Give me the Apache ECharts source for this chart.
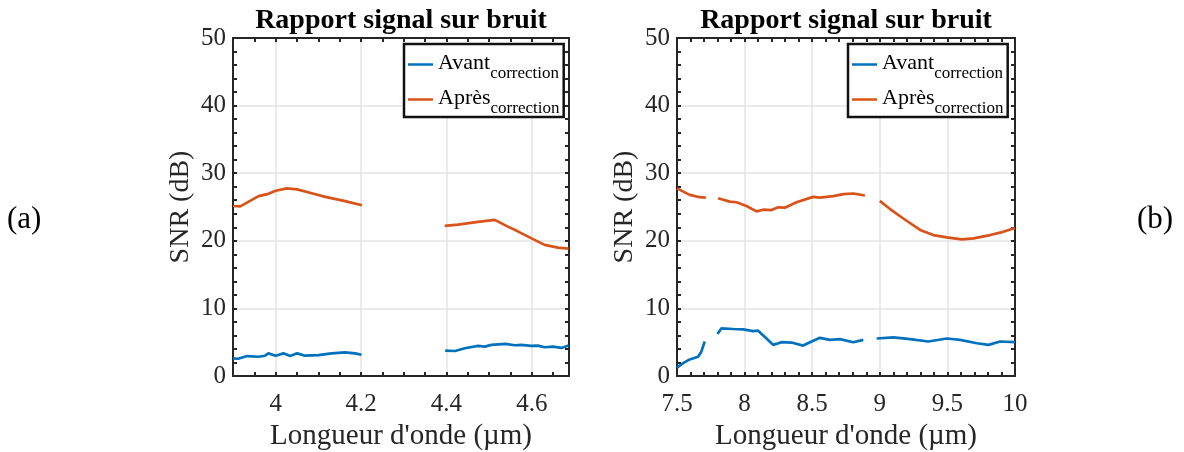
<!DOCTYPE html>
<html>
<head>
<meta charset="utf-8">
<script src="https://cdn.jsdelivr.net/npm/echarts@6/dist/echarts.min.js"></script>
<style>
  html, body { margin: 0; padding: 0; background: #fff; }
  #chart { width: 1184px; height: 452px; }
</style>
</head>
<body>
<div id="chart"></div>
<script>
// ---- data: SNR (dB) versus wavelength (µm), [wavelength, snr] pairs per continuous segment ----

// (a) 3.9 – 4.69 µm band
const xLabelsA = [4, 4.2, 4.4, 4.6];
const avantA1 = [[3.900, 2.6], [3.912, 2.55], [3.933, 2.95], [3.960, 2.85], [3.975, 3.0], [3.983, 3.35],
  [4.000, 3.0], [4.018, 3.35], [4.034, 2.95], [4.050, 3.35], [4.069, 3.0], [4.100, 3.1], [4.131, 3.35],
  [4.162, 3.5], [4.186, 3.35], [4.201, 3.15]];
const avantA2 = [[4.397, 3.75], [4.420, 3.7], [4.443, 4.1], [4.474, 4.45], [4.490, 4.35], [4.505, 4.6],
  [4.538, 4.75], [4.560, 4.55], [4.575, 4.6], [4.598, 4.45], [4.614, 4.5], [4.630, 4.25], [4.649, 4.35],
  [4.669, 4.15], [4.686, 4.5]];
const apresA1 = [[3.900, 25.15], [3.917, 25.1], [3.940, 25.9], [3.960, 26.6], [3.980, 26.9], [4.000, 27.4],
  [4.026, 27.75], [4.050, 27.6], [4.080, 27.1], [4.116, 26.5], [4.160, 25.9], [4.202, 25.25]];
const apresA2 = [[4.396, 22.2], [4.427, 22.4], [4.474, 22.8], [4.513, 23.1], [4.544, 22.1], [4.567, 21.4],
  [4.598, 20.4], [4.630, 19.4], [4.661, 19.0], [4.686, 18.85]];

// (b) 7.5 – 10 µm band
const avantB1 = [[7.500, 1.25], [7.545, 1.9], [7.594, 2.45], [7.656, 2.85], [7.680, 3.6], [7.705, 5.1]];
const avantB2 = [[7.799, 6.2], [7.829, 7.05], [7.915, 6.95], [7.989, 6.9], [8.063, 6.65], [8.100, 6.7],
  [8.162, 5.55], [8.211, 4.6], [8.273, 5.0], [8.347, 4.95], [8.433, 4.5], [8.496, 5.1], [8.557, 5.65],
  [8.631, 5.35], [8.705, 5.45], [8.804, 5.0], [8.878, 5.35]];
const avantB3 = [[8.977, 5.55], [9.100, 5.7], [9.224, 5.45], [9.359, 5.1], [9.496, 5.55], [9.594, 5.35],
  [9.718, 4.85], [9.804, 4.6], [9.890, 5.1], [10.000, 5.0]];
const apresB1 = [[7.500, 27.75], [7.594, 26.8], [7.668, 26.45], [7.713, 26.4]];
const apresB2 = [[7.804, 26.3], [7.890, 25.8], [7.940, 25.7], [8.014, 25.15], [8.088, 24.35], [8.137, 24.6],
  [8.199, 24.55], [8.248, 24.95], [8.298, 24.9], [8.384, 25.7], [8.507, 26.5], [8.557, 26.4], [8.656, 26.6],
  [8.730, 26.9], [8.804, 27.0], [8.890, 26.7]];
const apresB3 = [[9.000, 25.9], [9.076, 24.7], [9.174, 23.3], [9.298, 21.6], [9.396, 20.85], [9.495, 20.5],
  [9.607, 20.2], [9.693, 20.35], [9.816, 20.85], [9.890, 21.2], [10.000, 21.9]];

const seriesNames = ['Avant', 'Après'];
const legendSub = 'correction';
const plotTitle = 'Rapport signal sur bruit';
const xName = "Longueur d'onde (µm)";
const yName = 'SNR (dB)';

// ---- styling ----
const SERIF = '"Liberation Serif", "Times New Roman", serif';
const BLUE = '#0072BD';
const ORANGE = '#D95319';
const INK = '#262626';
const GRID = '#e3e3e3';
const NONE = 'rgba(0,0,0,0)';

// fixed plot boxes: labels may reach the canvas edge without shrinking the grid
const grids = [
  { left: 233, top: 38, width: 336, height: 338, outerBoundsMode: 'none', containLabel: false },
  { left: 677, top: 38, width: 338, height: 338, outerBoundsMode: 'none', containLabel: false }
];

const axisLineStyle = { show: true, onZero: false, lineStyle: { color: INK, width: 2 } };
const tickStyle = { show: true, inside: true, length: 4, lineStyle: { color: INK, width: 2 } };
const labelStyle = { fontFamily: SERIF, fontSize: 25, color: INK };
const nameStyle = { fontFamily: SERIF, fontSize: 29, color: INK };

function yAxes(gi) {
  const base = {
    gridIndex: gi, type: 'value', min: 0, max: 50, interval: 10,
    axisLine: axisLineStyle, axisTick: tickStyle,
    minorTick: { show: true, splitNumber: 5, length: 4, lineStyle: { color: INK, width: 2 } }
  };
  return [
    Object.assign({}, base, {
      position: 'left',
      axisLabel: Object.assign({ margin: 7 }, labelStyle),
      splitLine: { show: true, lineStyle: { color: GRID, width: 1.5 } },
      name: yName, nameLocation: 'middle', nameGap: 38,
      nameTextStyle: { fontFamily: SERIF, fontSize: 28, color: INK }
    }),
    Object.assign({}, base, {
      position: 'right', axisLabel: { show: false }, splitLine: { show: false }
    })
  ];
}

function isLabelA(v) { return xLabelsA.find(t => Math.abs(t - v) < 1e-6); }

// axis (a): ticks every 0.05 µm, labels and grid lines every 0.2 µm
function xAxesA() {
  const base = {
    gridIndex: 0, type: 'value', min: 3.9, max: 4.687, interval: 0.05,
    axisLine: axisLineStyle, axisTick: tickStyle
  };
  return [
    Object.assign({}, base, {
      position: 'bottom',
      axisLabel: Object.assign({
        margin: 16, showMinLabel: false, showMaxLabel: false,
        formatter: v => { const t = isLabelA(v); return t === undefined ? '' : String(t); }
      }, labelStyle),
      splitLine: { show: true, lineStyle: { color: [NONE, NONE, GRID, NONE], width: 1.5 } },
      name: xName, nameLocation: 'middle', nameGap: 45, nameTextStyle: nameStyle
    }),
    Object.assign({}, base, { position: 'top', axisLabel: { show: false }, splitLine: { show: false } })
  ];
}

function xAxesB() {
  const base = {
    gridIndex: 1, type: 'value', min: 7.5, max: 10, interval: 0.5,
    axisLine: axisLineStyle, axisTick: tickStyle,
    minorTick: { show: true, splitNumber: 5, length: 4, lineStyle: { color: INK, width: 2 } }
  };
  return [
    Object.assign({}, base, {
      position: 'bottom',
      axisLabel: Object.assign({ margin: 16, formatter: v => String(v) }, labelStyle),
      splitLine: { show: true, lineStyle: { color: GRID, width: 1.5 } },
      name: xName, nameLocation: 'middle', nameGap: 45, nameTextStyle: nameStyle
    }),
    Object.assign({}, base, { position: 'top', axisLabel: { show: false }, splitLine: { show: false } })
  ];
}

function line(name, color, data, xi, yi) {
  return {
    name: name, type: 'line', xAxisIndex: xi, yAxisIndex: yi, data: data,
    showSymbol: false, symbol: 'none', smooth: false, animation: false,
    lineStyle: { color: color, width: 2.7 }, itemStyle: { color: color }, z: 3
  };
}

// legend entries: name with a "correction" subscript
function legendAt(left) {
  return {
    left: left, top: 44, orient: 'vertical', icon: 'rect',
    itemWidth: 25, itemHeight: 2.5, itemGap: 0,
    padding: [3, 4, 0, 4],
    backgroundColor: '#fff', borderColor: '#111', borderWidth: 2.5,
    data: seriesNames, selectedMode: false,
    formatter: n => '{a|' + n + '}{s|' + legendSub + '}{z| }',
    textStyle: {
      rich: {
        a: { fontFamily: SERIF, fontSize: 22, color: '#000', lineHeight: 22, verticalAlign: 'top', padding: [5, 0, 0, 0] },
        s: { fontFamily: SERIF, fontSize: 17, color: '#000', lineHeight: 17, verticalAlign: 'bottom' },
        z: { fontFamily: SERIF, fontSize: 1, lineHeight: 35, verticalAlign: 'bottom' }
      }
    }
  };
}

const titleStyle = { fontFamily: SERIF, fontWeight: 'bold', fontSize: 28, color: '#000' };
const tagStyle = { fontFamily: SERIF, fontWeight: 'normal', fontSize: 31, color: '#000' };

const chart = echarts.init(document.getElementById('chart'), null, { renderer: 'canvas' });
chart.setOption({
  animation: false,
  backgroundColor: '#fff',
  title: [
    { text: plotTitle, left: 401, top: 7, textAlign: 'center', padding: 0, textStyle: titleStyle },
    { text: plotTitle, left: 846, top: 7, textAlign: 'center', padding: 0, textStyle: titleStyle },
    { text: '(a)', left: 7, top: 204, padding: 0, textStyle: tagStyle },
    { text: '(b)', left: 1137, top: 204, padding: 0, textStyle: tagStyle }
  ],
  grid: grids,
  xAxis: xAxesA().concat(xAxesB()),
  yAxis: yAxes(0).concat(yAxes(1)),
  legend: [legendAt(404), legendAt(848)],
  series: [
    line('Avant', BLUE, avantA1, 0, 0),
    line('Avant', BLUE, avantA2, 0, 0),
    line('Après', ORANGE, apresA1, 0, 0),
    line('Après', ORANGE, apresA2, 0, 0),
    line('Avant', BLUE, avantB1, 2, 2),
    line('Avant', BLUE, avantB2, 2, 2),
    line('Avant', BLUE, avantB3, 2, 2),
    line('Après', ORANGE, apresB1, 2, 2),
    line('Après', ORANGE, apresB2, 2, 2),
    line('Après', ORANGE, apresB3, 2, 2)
  ]
});
</script>
</body>
</html>
